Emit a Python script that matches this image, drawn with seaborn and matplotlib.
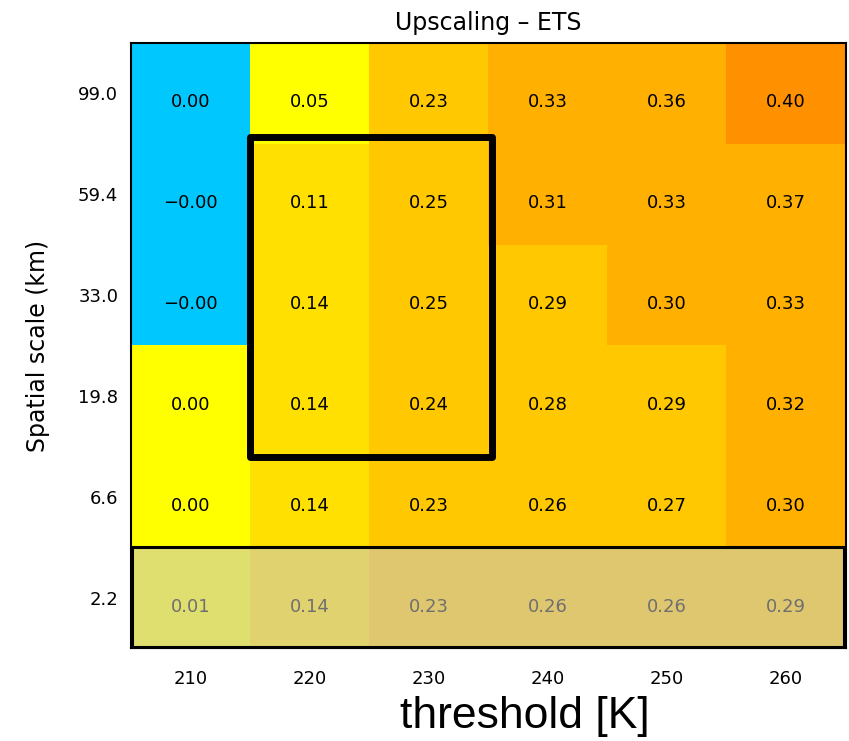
import numpy as np
import pandas as pd
import matplotlib as mpl
import matplotlib.pyplot as plt
from matplotlib.colors import ListedColormap, BoundaryNorm
from matplotlib.patches import Rectangle
import seaborn as sns

thresholds = ["210", "220", "230", "240", "250", "260"]
scales = ["99.0", "59.4", "33.0", "19.8", "6.6", "2.2"]

# ETS values (rows = spatial scale, top to bottom)
ets = [
    [-0.001, 0.05, 0.23, 0.33, 0.36, 0.40],
    [-0.001, 0.11, 0.25, 0.31, 0.33, 0.37],
    [-0.001, 0.14, 0.25, 0.29, 0.30, 0.33],
    [0.001, 0.14, 0.24, 0.28, 0.29, 0.32],
    [0.001, 0.14, 0.23, 0.26, 0.27, 0.30],
    [0.01, 0.14, 0.23, 0.26, 0.26, 0.29],
]
ets_text = [
    ["0.00", "0.05", "0.23", "0.33", "0.36", "0.40"],
    ["\u22120.00", "0.11", "0.25", "0.31", "0.33", "0.37"],
    ["\u22120.00", "0.14", "0.25", "0.29", "0.30", "0.33"],
    ["0.00", "0.14", "0.24", "0.28", "0.29", "0.32"],
    ["0.00", "0.14", "0.23", "0.26", "0.27", "0.30"],
    ["0.01", "0.14", "0.23", "0.26", "0.26", "0.29"],
]

bounds = [-1, 0, 0.1, 0.2, 0.3, 0.4, 1]
colors = ["#00c8ff", "#ffff00", "#ffe000", "#ffc800", "#ffb000", "#ff9000"]

df = pd.DataFrame(ets, index=scales, columns=thresholds)

fig = plt.figure(figsize=(8.49, 7.41), dpi=100)
ax = fig.add_axes([0.154, 0.1255, 0.842, 0.8165])
cmap = ListedColormap(colors)
norm = BoundaryNorm(bounds, cmap.N)
sns.heatmap(df, cmap=cmap, norm=norm, cbar=False, annot=np.array(ets_text), fmt="",
            annot_kws={"fontsize": 13, "color": "black", "va": "top"}, ax=ax)

# shaded bottom row (drawn over its text, so the numbers look grey)
ax.add_patch(Rectangle((0.01, 5.0), 5.98, 0.99, facecolor=(0.78, 0.78, 0.78, 0.56),
                       edgecolor="black", lw=2.2, zorder=5, clip_on=False))
# highlight box
ax.add_patch(Rectangle((1.0, 0.93), 2.03, 3.18, fill=False, edgecolor="black", lw=5,
                       joinstyle="round", zorder=6, clip_on=False))

for s in ax.spines.values():
    s.set_visible(True)
    s.set_color("black")
    s.set_linewidth(1.5)

ax.tick_params(length=0, labelsize=13)
ax.tick_params(axis="y", pad=9)
ax.tick_params(axis="x", pad=16)
ax.set_yticklabels(scales, rotation=0, va="center_baseline")
ax.set_xticklabels(thresholds, rotation=0)
ax.set_title("Upscaling \u2013 ETS", fontsize=17, pad=9)
ax.set_ylabel("Spatial scale (km)", fontsize=17)
ax.yaxis.set_label_coords(-0.113, 0.5)
ax.set_xlabel("threshold [K]", fontsize=32, family="Liberation Sans")
ax.xaxis.set_label_coords(0.551, -0.08)

plt.savefig("out.png", dpi=100)
